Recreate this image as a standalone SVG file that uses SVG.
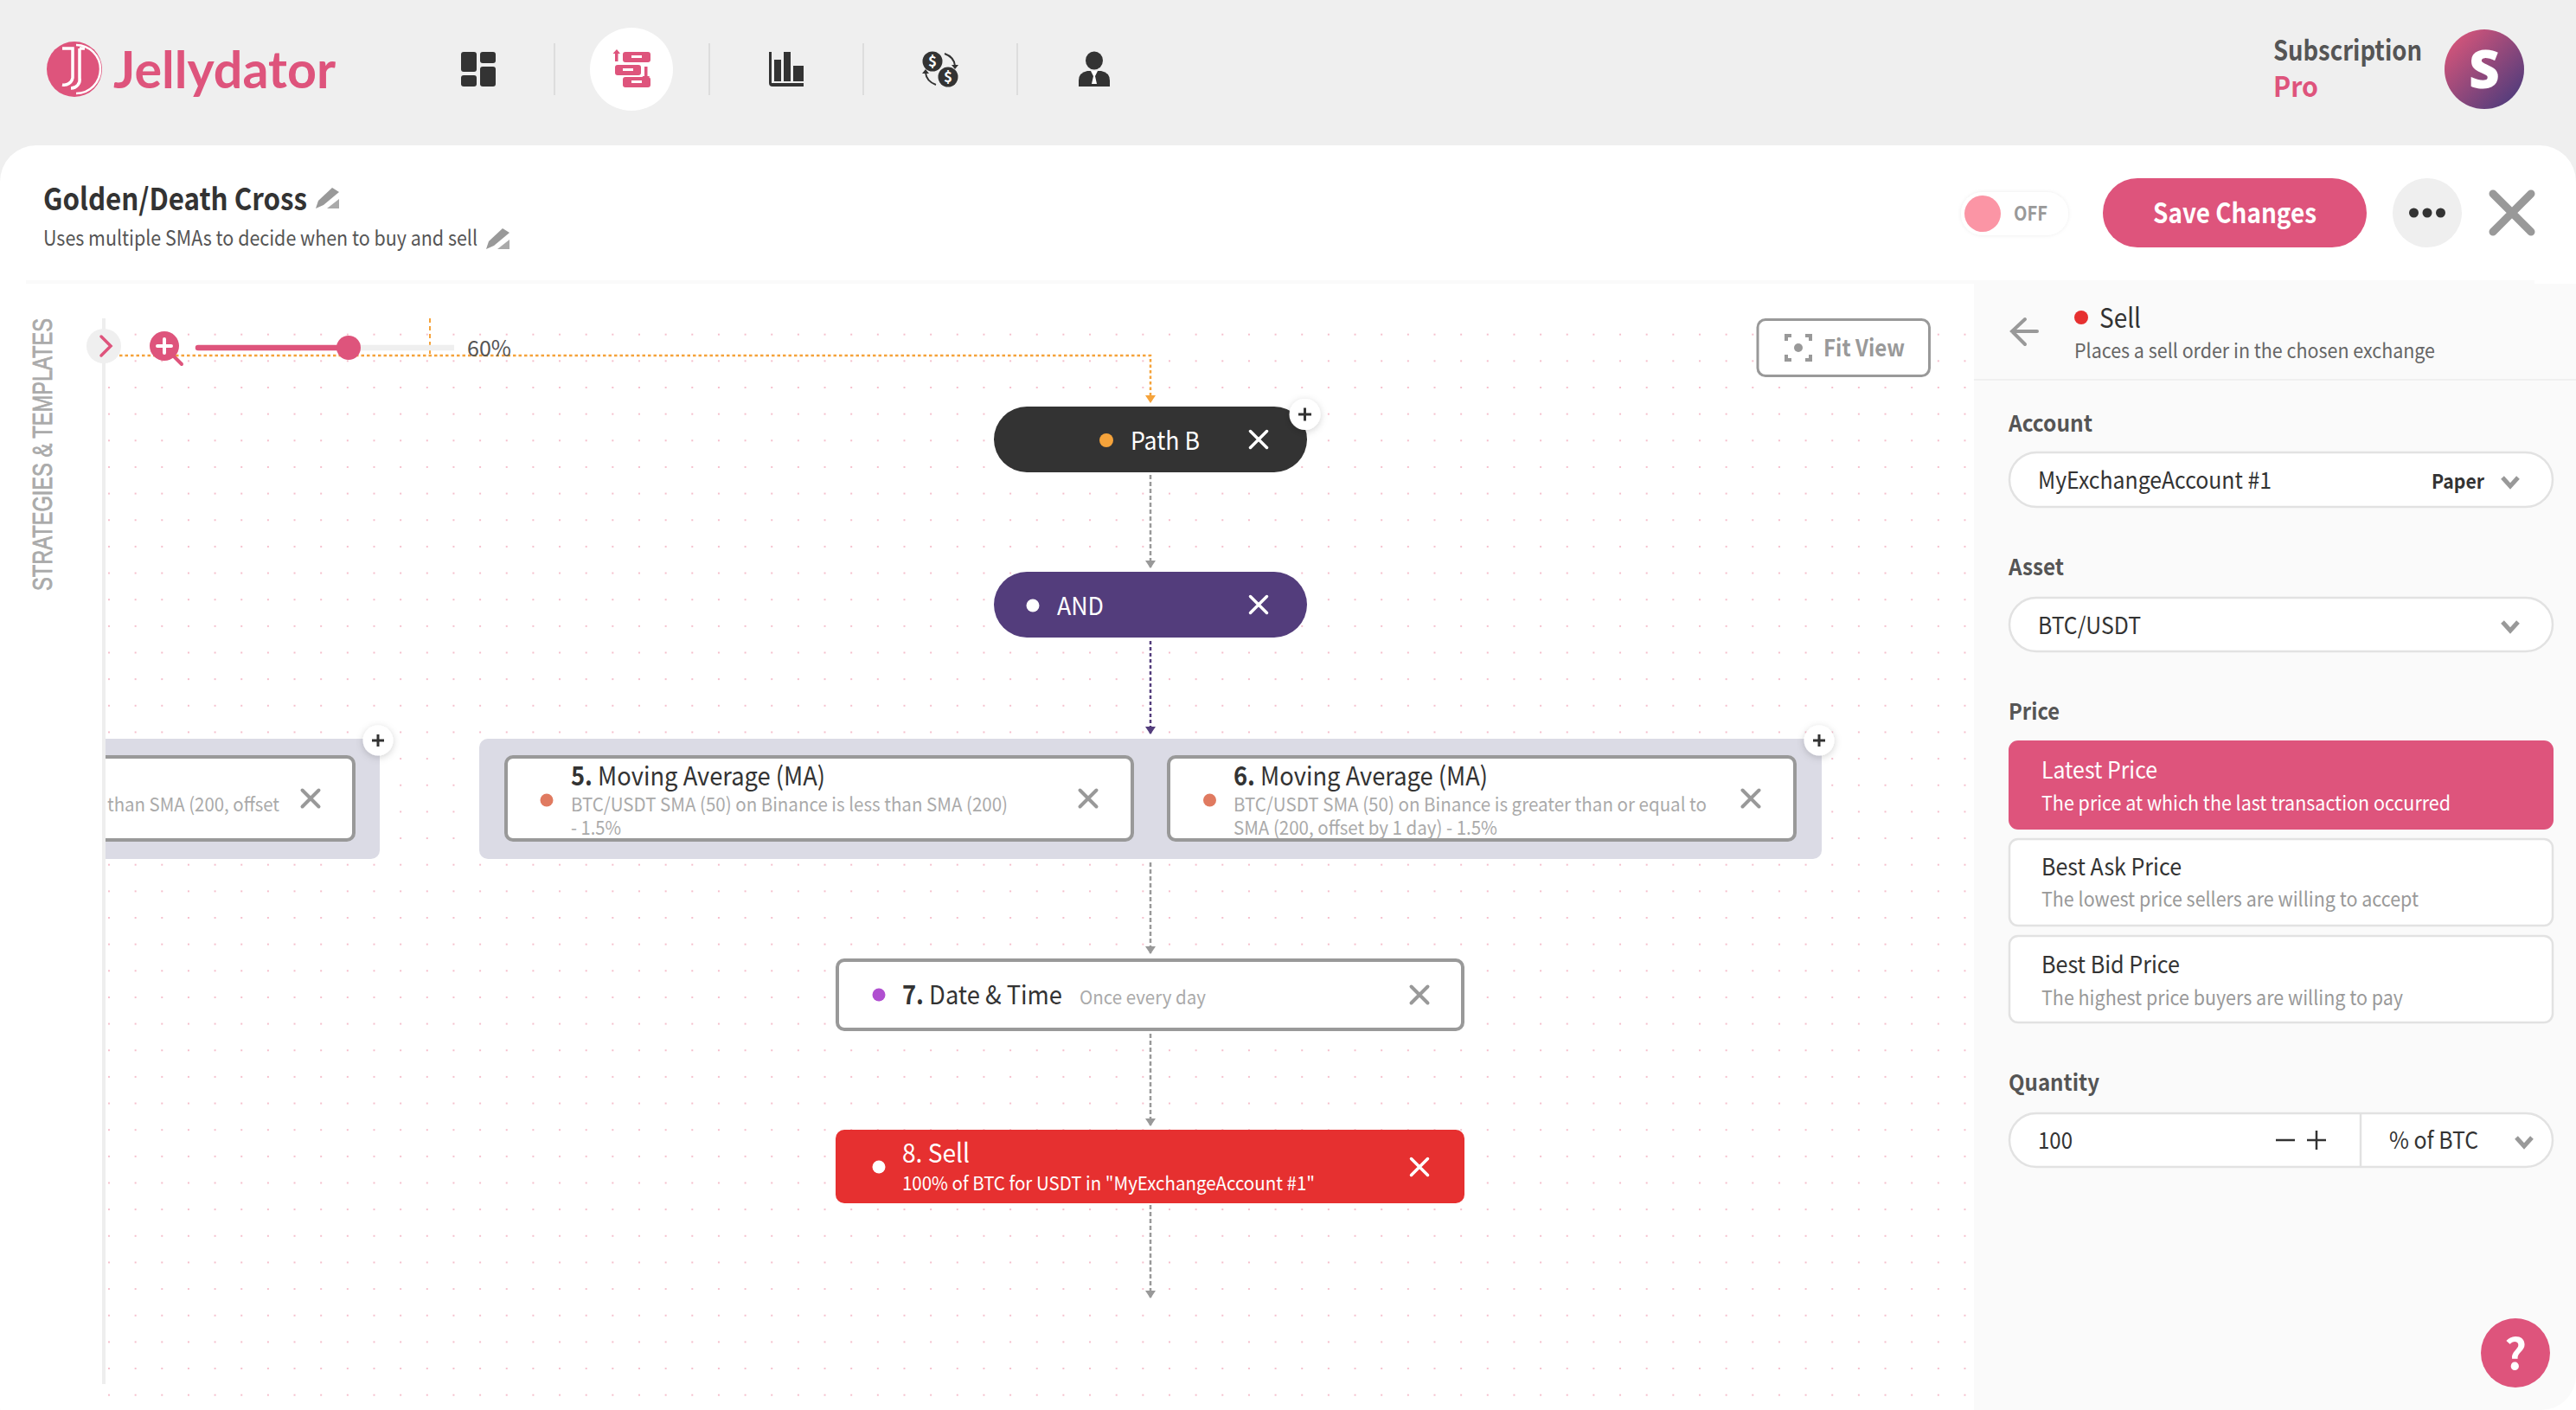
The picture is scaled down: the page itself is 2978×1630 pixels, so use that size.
<svg xmlns="http://www.w3.org/2000/svg" width="2978" height="1630" viewBox="0 0 2978 1630">
<style>
text{font-family:"Noto Sans CJK SC","Noto Sans",sans-serif;fill:#333}
.h{font-size:30px}
.sub{font-size:22px;fill:#aaa}
.lbl{font-size:26px;font-weight:700;fill:#555}
.val{font-size:27px;fill:#333}
.desc{font-size:23px;fill:#999}
.w{fill:#fff}
.nodebox{fill:#fff;stroke:#999;stroke-width:4}
.x{fill:none;stroke:#999;stroke-width:4;stroke-linecap:round}
.xw{fill:none;stroke:#fff;stroke-width:3.5;stroke-linecap:round}
.chev{fill:none;stroke:#999;stroke-width:5}
.field{fill:#fff;stroke:#e2e2e2;stroke-width:2.5}
.conn{fill:none;stroke:#999;stroke-width:2.5;stroke-dasharray:5 3}
.pink{fill:#de547c}
.sep{stroke:#ddd;stroke-width:2}
.dk{fill:#333}
.plus{stroke:#333;stroke-width:3}
</style>
<defs>
<pattern id="dots" x="125" y="447" width="30.65" height="30.65" patternUnits="userSpaceOnUse"><circle cx="1" cy="1" r="1" fill="#f2aabb"/></pattern>
<marker id="arrGray" markerUnits="userSpaceOnUse" markerWidth="12" markerHeight="9" refX="6" refY="8" viewBox="0 0 12 9"><path d="M0 0H12L6 9Z" fill="#999"/></marker>
<marker id="arrO" markerUnits="userSpaceOnUse" markerWidth="12" markerHeight="9" refX="6" refY="8" viewBox="0 0 12 9"><path d="M0 0H12L6 9Z" fill="#f5a33b"/></marker>
<marker id="arrP" markerUnits="userSpaceOnUse" markerWidth="12" markerHeight="9" refX="6" refY="8" viewBox="0 0 12 9"><path d="M0 0H12L6 9Z" fill="#533d7c"/></marker>
<linearGradient id="av" x1="0.1" y1="0.1" x2="0.9" y2="0.9"><stop offset="0" stop-color="#d5557a"/><stop offset="1" stop-color="#503c7c"/></linearGradient>
<filter id="sh" x="-50%" y="-50%" width="200%" height="200%"><feDropShadow dx="0" dy="2" stdDeviation="4" flood-color="#000" flood-opacity="0.18"/></filter>
<filter id="sh2" x="-20%" y="-30%" width="140%" height="160%"><feDropShadow dx="0" dy="0" stdDeviation="2" flood-color="#000" flood-opacity="0.08"/></filter>
<clipPath id="canvasClip"><rect x="122" y="370" width="2160" height="1260"/></clipPath>
<g id="pencil"><path d="M19 0L27 5L9 20L0 24L3 15Z" fill="#999"/><path d="M13 24H27V13Z" fill="#aaa"/></g>
<path id="xg" d="M-9.500 -9.500L9.500 9.500M9.500 -9.500L-9.500 9.500"/>
</defs>

<rect width="2978" height="1630" fill="#efefef"/>
<rect x="0" y="168" width="2978" height="1500" rx="42" fill="#fff"/>
<path d="M2282 328H2978V1590A40 40 0 0 1 2938 1630H2282Z" fill="#fafafa"/>
<rect x="30" y="324" width="2900" height="4" fill="#fafafa"/>
<rect x="2282" y="438" width="696" height="2" fill="#f0f0f0"/>
<rect x="122" y="370" width="2160" height="1260" fill="url(#dots)"/>

<g id="logo">
<circle cx="86" cy="80" r="32" class="pink"/>
<path d="M88 52A28 28 0 0 1 88 108" fill="none" stroke="#fff" stroke-width="2.5"/>
<path d="M72 56H84V90A10 10 0 0 1 72 98M92 56H98M92 56V90A10 10 0 0 1 82 102" fill="none" stroke="#fff" stroke-width="3.5"/>
<text x="131" y="102" style="font-family:Lato,sans-serif;font-size:60px;font-weight:700;fill:#de547c" textLength="257" lengthAdjust="spacingAndGlyphs">Jellydator</text>
</g>

<g id="nav">
<g class="dk"><rect x="533" y="60" width="18" height="23" rx="3"/><rect x="533" y="87" width="18" height="13" rx="3"/><rect x="555" y="60" width="18" height="13" rx="3"/><rect x="555" y="77" width="18" height="23" rx="3"/></g>
<line class="sep" x1="641" y1="50" x2="641" y2="110"/>
<circle cx="730" cy="80" r="48" fill="#fff"/>
<g class="pink"><rect x="720" y="60" width="32" height="12" rx="3"/><rect x="711" y="75" width="30" height="12" rx="3"/><rect x="720" y="89" width="32" height="12" rx="3"/><path d="M711 71V62H708.500L713 57L717 62H714.500V71Z"/><path d="M745 77V88H742.500L747 94L751 88H748.500V77Z"/></g>
<g class="w"><rect x="730" y="64" width="12" height="3"/><rect x="720" y="79" width="12" height="3"/><rect x="730" y="93" width="12" height="3"/></g>
<line class="sep" x1="820" y1="50" x2="820" y2="110"/>
<g class="dk"><path d="M889 60H892V96H929V100H893Q889 100 889 96Z"/><rect x="895" y="69" width="8" height="25"/><rect x="906" y="60" width="8" height="34"/><rect x="917" y="76" width="12" height="18"/></g>
<line class="sep" x1="998" y1="50" x2="998" y2="110"/>
<g><circle cx="1078" cy="71" r="11.500" class="dk"/><circle cx="1096" cy="89" r="11.500" class="dk"/>
<text x="1078" y="77" font-size="17" font-weight="700" text-anchor="middle" style="fill:#fff">$</text><text x="1096" y="95" font-size="17" font-weight="700" text-anchor="middle" style="fill:#fff">$</text>
<path d="M1092 62Q1103 66 1104 76M1082 98Q1071 94 1070 84" fill="none" stroke="#333" stroke-width="2"/><path d="M1100 75H1108L1104 80ZM1066 85H1074L1070 80Z" class="dk"/></g>
<line class="sep" x1="1176" y1="50" x2="1176" y2="110"/>
<g><ellipse cx="1265" cy="70" rx="10" ry="10.500" class="dk"/><path d="M1247 100V93Q1247 84 1257 82H1273Q1283 84 1283 93V100Z" class="dk"/><path d="M1261 82H1269L1266 88L1268 97H1262L1264 88Z" fill="#fff"/></g>
</g>

<g id="title">
<text x="50" y="243" font-size="35" font-weight="700" textLength="305" lengthAdjust="spacingAndGlyphs">Golden/Death Cross</text>
<use href="#pencil" x="365" y="217"/>
<text x="50" y="284" font-size="24" style="fill:#555" textLength="502" lengthAdjust="spacingAndGlyphs">Uses multiple SMAs to decide when to buy and sell</text>
<use href="#pencil" x="562" y="264"/>
</g>

<g id="account">
<text x="2628" y="70" font-size="32" font-weight="700" style="fill:#555" textLength="172" lengthAdjust="spacingAndGlyphs">Subscription</text>
<text x="2628" y="112" font-size="32" font-weight="700" style="fill:#de547c" textLength="52" lengthAdjust="spacingAndGlyphs">Pro</text>
<circle cx="2872" cy="80" r="46" fill="url(#av)"/>
<text x="2872" y="102" font-size="62" font-weight="800" text-anchor="middle" style="fill:#fff;font-family:'Open Sans',sans-serif">S</text>
</g>

<g id="toolbar">
<rect x="2267" y="222" width="124" height="50" rx="25" fill="#fff" filter="url(#sh2)"/>
<circle cx="2292" cy="247" r="21" fill="#fb95a5"/>
<text x="2328" y="255" font-size="22" font-weight="700" style="fill:#999" textLength="39" lengthAdjust="spacingAndGlyphs">OFF</text>
<rect x="2431" y="206" width="305" height="80" rx="40" class="pink"/>
<text x="2489" y="258" font-size="32" font-weight="700" style="fill:#fff" textLength="189" lengthAdjust="spacingAndGlyphs">Save Changes</text>
<circle cx="2806" cy="246" r="40" fill="#efefef"/>
<circle cx="2790.500" cy="246" r="5.500" class="dk"/><circle cx="2806" cy="246" r="5.500" class="dk"/><circle cx="2821.500" cy="246" r="5.500" class="dk"/>
<path d="M2882 224L2926 268M2926 224L2882 268" fill="none" stroke="#999" stroke-width="9" stroke-linecap="round"/>
</g>

<g id="sidebar">
<rect x="118" y="368" width="4" height="1232" fill="#eee"/>
<text transform="translate(59.500 683) rotate(-90)" style="font-family:'Liberation Sans',sans-serif;font-size:31px;font-weight:400;fill:#aaa;stroke:#aaa;stroke-width:.8" textLength="315" lengthAdjust="spacingAndGlyphs">STRATEGIES &amp; TEMPLATES</text>
<circle cx="120" cy="400" r="20" fill="#efefef"/>
<path d="M117 389L128 400L117 411" fill="none" stroke="#de547c" stroke-width="3.500" stroke-linecap="round"/>
</g>

<g id="connectors">
<path d="M138 411H1330V465" fill="none" stroke="#f5a33b" stroke-width="2.500" stroke-dasharray="3.500 3" marker-end="url(#arrO)"/>
<path d="M497 368V411" fill="none" stroke="#f5a33b" stroke-width="2" stroke-dasharray="5 4"/>
<path class="conn" d="M1330 549V656" marker-end="url(#arrGray)"/>
<path d="M1330 741V848" fill="none" stroke="#533d7c" stroke-width="2.500" stroke-dasharray="4 3" marker-end="url(#arrP)"/>
<path class="conn" d="M1330 997V1102" marker-end="url(#arrGray)"/>
<path class="conn" d="M1330 1195V1301" marker-end="url(#arrGray)"/>
<path class="conn" d="M1330 1393V1500" marker-end="url(#arrGray)"/>
</g>

<g id="zoom">
<circle cx="190" cy="400" r="17" class="pink"/>
<path d="M201 412L210 421" stroke="#de547c" stroke-width="4" stroke-linecap="round"/>
<path d="M190 392V408M182 400H198" stroke="#fff" stroke-width="4" stroke-linecap="round"/>
<line x1="403" y1="402" x2="525" y2="402" stroke="#efefef" stroke-width="6.500"/>
<line x1="229" y1="402" x2="403" y2="402" stroke="#de547c" stroke-width="6.500" stroke-linecap="round"/>
<circle cx="403" cy="402" r="14" class="pink"/>
<text x="540" y="412" font-size="25" style="fill:#555" textLength="51" lengthAdjust="spacingAndGlyphs">60%</text>
</g>

<g id="fit-view">
<rect x="2032" y="369.500" width="198.500" height="65" rx="9" fill="#fff" stroke="#999" stroke-width="3"/>
<path d="M2065 394V388H2071M2087 388H2093V394M2093 410V416H2087M2071 416H2065V410" fill="none" stroke="#999" stroke-width="4"/>
<circle cx="2079" cy="402" r="5" fill="#999"/>
<text x="2108" y="412" font-size="27" font-weight="700" style="fill:#999" textLength="94" lengthAdjust="spacingAndGlyphs">Fit View</text>
</g>

<g id="node-path-b">
<rect x="1149" y="470" width="362" height="76" rx="38" fill="#333"/>
<circle cx="1279" cy="509" r="8" fill="#f5a33b"/>
<text x="1307" y="520" font-size="29" style="fill:#fff" textLength="80" lengthAdjust="spacingAndGlyphs">Path B</text>
<use href="#xg" transform="translate(1455 508)" class="xw"/>
<circle cx="1508.500" cy="479" r="18" fill="#fff" filter="url(#sh)"/>
<path class="plus" d="M1501 479H1516M1508.500 471.500V486.500"/>
</g>

<g id="node-and">
<rect x="1149" y="661" width="362" height="76" rx="38" fill="#533d7c"/>
<circle cx="1194" cy="700" r="7.500" fill="#fff"/>
<text x="1222" y="711" font-size="29" style="fill:#fff" textLength="54" lengthAdjust="spacingAndGlyphs">AND</text>
<use href="#xg" transform="translate(1455 699)" class="xw"/>
</g>

<g id="group-left" clip-path="url(#canvasClip)">
<rect x="60" y="854" width="379" height="139" rx="10" fill="#dbdbe5"/>
<rect x="60" y="875" width="349" height="96" rx="8" class="nodebox"/>
<text x="124" y="938" class="sub" textLength="199" lengthAdjust="spacingAndGlyphs">than SMA (200, offset</text>
<use href="#xg" transform="translate(359 923)" class="x"/>
</g>
<g id="group-left-add"><circle cx="437" cy="856" r="17.500" fill="#fff" filter="url(#sh)"/><path class="plus" d="M430 856H444M437 849V863"/></g>

<rect id="group-box" x="554" y="854" width="1552" height="139" rx="10" fill="#dbdbe5"/>

<g id="node-5">
<rect x="585" y="875" width="724" height="96" rx="8" class="nodebox"/>
<circle cx="632" cy="925" r="7.500" fill="#e07a60"/>
<text x="660" y="908" class="h" textLength="294" lengthAdjust="spacingAndGlyphs"><tspan font-weight="700">5.</tspan> Moving Average (MA)</text>
<text x="660" y="938" class="sub" textLength="505" lengthAdjust="spacingAndGlyphs">BTC/USDT SMA (50) on Binance is less than SMA (200)</text>
<text x="660" y="965" class="sub" textLength="58" lengthAdjust="spacingAndGlyphs">- 1.5%</text>
<use href="#xg" transform="translate(1258 923)" class="x"/>
</g>

<g id="node-6">
<rect x="1351" y="875" width="724" height="96" rx="8" class="nodebox"/>
<circle cx="1398.500" cy="925" r="7.500" fill="#e07a60"/>
<text x="1426" y="908" class="h" textLength="294" lengthAdjust="spacingAndGlyphs"><tspan font-weight="700">6.</tspan> Moving Average (MA)</text>
<text x="1426" y="938" class="sub" textLength="547" lengthAdjust="spacingAndGlyphs">BTC/USDT SMA (50) on Binance is greater than or equal to</text>
<text x="1426" y="965" class="sub" textLength="305" lengthAdjust="spacingAndGlyphs">SMA (200, offset by 1 day) - 1.5%</text>
<use href="#xg" transform="translate(2024 923)" class="x"/>
</g>
<g id="group-add"><circle cx="2103" cy="856" r="17.500" fill="#fff" filter="url(#sh)"/><path class="plus" d="M2096 856H2110M2103 849V863"/></g>

<g id="node-7">
<rect x="968" y="1110" width="723" height="80" rx="8" class="nodebox"/>
<circle cx="1016" cy="1150" r="7.500" fill="#b04fd0"/>
<text x="1043" y="1161" class="h" textLength="185" lengthAdjust="spacingAndGlyphs"><tspan font-weight="700">7.</tspan> Date &amp; Time</text>
<text x="1248" y="1161" class="sub" textLength="146" lengthAdjust="spacingAndGlyphs">Once every day</text>
<use href="#xg" transform="translate(1641 1150)" class="x"/>
</g>

<g id="node-8">
<rect x="966" y="1306" width="727" height="85" rx="10" fill="#e63030"/>
<circle cx="1016" cy="1349" r="7.500" fill="#fff"/>
<text x="1043" y="1344" class="h" style="fill:#fff" textLength="78" lengthAdjust="spacingAndGlyphs">8. Sell</text>
<text x="1043" y="1376" class="sub" style="fill:#fff" textLength="477" lengthAdjust="spacingAndGlyphs">100% of BTC for USDT in "MyExchangeAccount #1"</text>
<use href="#xg" transform="translate(1641 1349)" class="xw"/>
</g>

<g id="panel-head">
<path d="M2355 383H2326M2341 369L2326 383L2341 398" fill="none" stroke="#999" stroke-width="4" stroke-linecap="round"/>
<circle cx="2406" cy="367" r="8" fill="#e63030"/>
<text x="2427" y="379" font-size="31" textLength="48" lengthAdjust="spacingAndGlyphs">Sell</text>
<text x="2398" y="414" font-size="23" style="fill:#666" textLength="417" lengthAdjust="spacingAndGlyphs">Places a sell order in the chosen exchange</text>
</g>

<g id="field-account">
<text x="2322" y="499" class="lbl" textLength="97" lengthAdjust="spacingAndGlyphs">Account</text>
<rect x="2323" y="523" width="628" height="63" rx="31.500" class="field"/>
<text x="2356" y="565" class="val" textLength="270" lengthAdjust="spacingAndGlyphs">MyExchangeAccount #1</text>
<text x="2811" y="565" font-size="23" font-weight="700" textLength="61" lengthAdjust="spacingAndGlyphs">Paper</text>
<path class="chev" d="M2893 552L2902 562L2911 552"/>
</g>

<g id="field-asset">
<text x="2322" y="665" class="lbl" textLength="64" lengthAdjust="spacingAndGlyphs">Asset</text>
<rect x="2323" y="691" width="628" height="62" rx="31" class="field"/>
<text x="2356" y="733" class="val" textLength="119" lengthAdjust="spacingAndGlyphs">BTC/USDT</text>
<path class="chev" d="M2893 719L2902 729L2911 719"/>
</g>

<g id="field-price">
<text x="2322" y="832" class="lbl" textLength="59" lengthAdjust="spacingAndGlyphs">Price</text>
<rect x="2322" y="856" width="630" height="103" rx="11" class="pink"/>
<text x="2360" y="900" class="val" style="fill:#fff" textLength="134" lengthAdjust="spacingAndGlyphs">Latest Price</text>
<text x="2360" y="937" class="desc" style="fill:#fff" textLength="473" lengthAdjust="spacingAndGlyphs">The price at which the last transaction occurred</text>
<rect x="2323" y="970" width="628" height="100" rx="10" class="field"/>
<text x="2360" y="1012" class="val" textLength="162" lengthAdjust="spacingAndGlyphs">Best Ask Price</text>
<text x="2360" y="1048" class="desc" textLength="436" lengthAdjust="spacingAndGlyphs">The lowest price sellers are willing to accept</text>
<rect x="2323" y="1082" width="628" height="100" rx="10" class="field"/>
<text x="2360" y="1125" class="val" textLength="160" lengthAdjust="spacingAndGlyphs">Best Bid Price</text>
<text x="2360" y="1162" class="desc" textLength="418" lengthAdjust="spacingAndGlyphs">The highest price buyers are willing to pay</text>
</g>

<g id="field-quantity">
<text x="2322" y="1261" class="lbl" textLength="105" lengthAdjust="spacingAndGlyphs">Quantity</text>
<rect x="2323" y="1287" width="628" height="62" rx="31" class="field"/>
<text x="2356" y="1328" class="val" textLength="40" lengthAdjust="spacingAndGlyphs">100</text>
<path d="M2631 1318H2653M2667 1318H2689M2678 1307V1329" stroke="#333" stroke-width="2.500" fill="none"/>
<line x1="2729" y1="1287" x2="2729" y2="1349" stroke="#e2e2e2" stroke-width="2.500"/>
<text x="2762" y="1328" class="val" textLength="103" lengthAdjust="spacingAndGlyphs">% of BTC</text>
<path class="chev" d="M2909 1315L2918 1325L2927 1315"/>
</g>

<g id="help">
<circle cx="2908" cy="1564" r="40" class="pink"/>
<text x="2908" y="1583" font-size="50" text-anchor="middle" style="fill:#fff;font-weight:700">?</text>
</g>
</svg>
